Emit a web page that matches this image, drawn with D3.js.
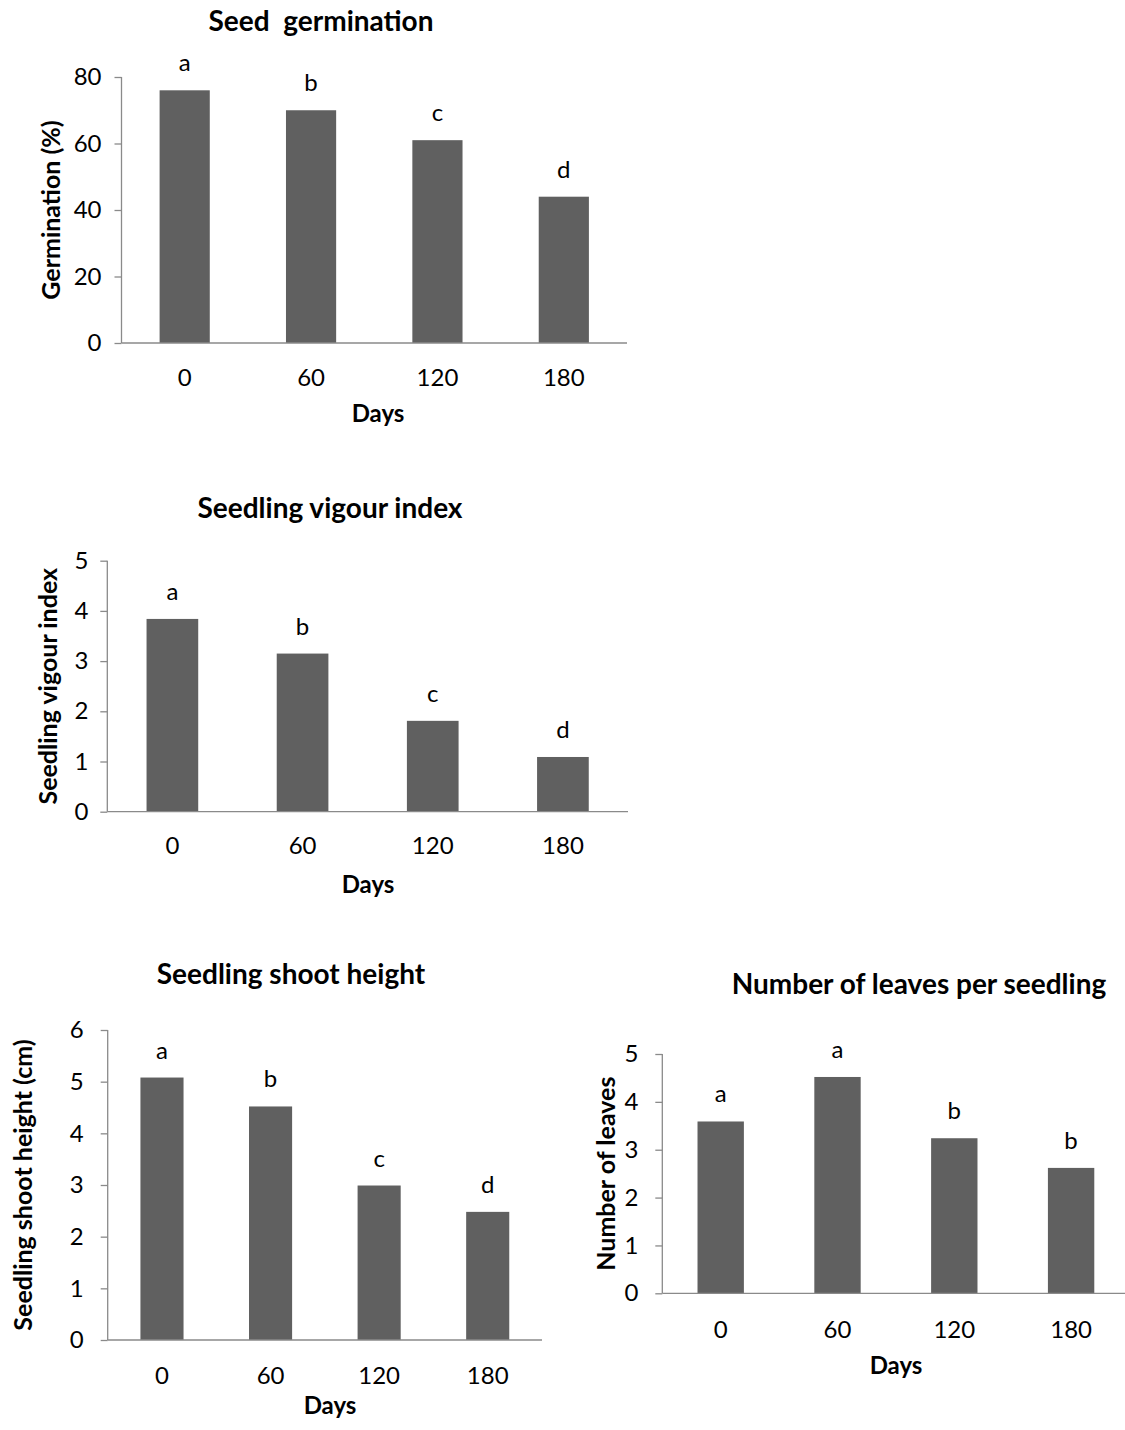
<!DOCTYPE html>
<html>
<head>
<meta charset="utf-8">
<script src="https://cdn.jsdelivr.net/npm/d3@7"></script>
<style>
  body { margin: 0; background: #fff; }
  svg { display: block; font-family: Lato, "Open Sans", sans-serif; }
  .title { white-space: pre; }
</style>
</head>
<body>
<svg id="chart" width="1125" height="1430"></svg>
<script>
// data
const days = ["0", "60", "120", "180"];
const germination = [76, 70, 61, 44];
const vigour = [3.84, 3.15, 1.81, 1.09];
const shootHeight = [5.08, 4.52, 2.99, 2.48];
const leaves = [3.59, 4.52, 3.24, 2.62];
const germLetters = ["a", "b", "c", "d"];
const vigourLetters = ["a", "b", "c", "d"];
const shootLetters = ["a", "b", "c", "d"];
const leavesLetters = ["a", "a", "b", "b"];

const barColor = "#606060", axisColor = "#8a8a8a";

// one entry per panel: data + where it sits on the page
const panels = [
  { title: "Seed  germination", ylabel: "Germination (%)", values: germination, letters: germLetters,
    x0: 121.5, x1: 627, yTop: 77, yBot: 343, ymax: 80, step: 20,
    titleX: 321, titleY: 31, ylabX: 50, daysX: 378, daysY: 422, tickY: 386, pad: 20 },
  { title: "Seedling vigour index", ylabel: "Seedling vigour index", values: vigour, letters: vigourLetters,
    x0: 107.3, x1: 628, yTop: 560.7, yBot: 811.7, ymax: 5, step: 1,
    titleX: 330, titleY: 518, ylabX: 47, daysX: 368, daysY: 893, tickY: 854, pad: 19 },
  { title: "Seedling shoot height", ylabel: "Seedling shoot height (cm)", values: shootHeight, letters: shootLetters,
    x0: 107.7, x1: 542, yTop: 1030, yBot: 1340, ymax: 6, step: 1,
    titleX: 291, titleY: 984, ylabX: 22, daysX: 330, daysY: 1414, tickY: 1384, pad: 24 },
  { title: "Number of leaves per seedling", ylabel: "Number of leaves", values: leaves, letters: leavesLetters,
    x0: 662.3, x1: 1129.5, yTop: 1054, yBot: 1293.3, ymax: 5, step: 1,
    titleX: 919, titleY: 994, ylabX: 605, daysX: 896, daysY: 1374, tickY: 1338, pad: 24 }
];

const svg = d3.select("#chart");

panels.forEach(p => {
  const g = svg.append("g");
  const x = d3.scaleBand().domain(days).range([p.x0, p.x1]).padding(0);
  const y = d3.scaleLinear().domain([0, p.ymax]).range([p.yBot, p.yTop]);
  const bw = x.bandwidth() * 0.397;

  // bars
  g.selectAll("rect").data(p.values).join("rect")
    .attr("x", (d, i) => x(days[i]) + x.bandwidth() / 2 - bw / 2)
    .attr("y", d => y(d))
    .attr("width", bw)
    .attr("height", d => y(0) - y(d))
    .attr("fill", barColor);

  // significance letters
  g.selectAll("text.letter").data(p.values).join("text")
    .attr("class", "letter")
    .attr("x", (d, i) => x(days[i]) + x.bandwidth() / 2)
    .attr("y", d => y(d) - 19)
    .attr("text-anchor", "middle")
    .attr("font-size", 24)
    .attr("fill", "#000")
    .text((d, i) => p.letters[i]);

  // y axis
  const yAxis = g.append("g").attr("transform", `translate(${p.x0},0)`)
    .call(d3.axisLeft(y).tickValues(d3.range(0, p.ymax + p.step / 2, p.step))
      .tickFormat(d3.format("d")).tickSize(7).tickPadding(p.pad - 7));
  yAxis.select(".domain").attr("d", `M0,${p.yTop}V${p.yBot}`);
  yAxis.selectAll("line, path").attr("stroke", axisColor).attr("stroke-width", 1.3);
  yAxis.selectAll("text").attr("font-size", 24).attr("font-family", "Lato").attr("fill", "#000");

  // x axis (category labels, no ticks)
  const xAxis = g.append("g").attr("transform", `translate(0,${p.yBot})`)
    .call(d3.axisBottom(x).tickSize(0).tickPadding(0));
  xAxis.select(".domain").attr("d", `M${p.x0},0H${p.x1}`).attr("stroke", axisColor).attr("stroke-width", 1.3);
  xAxis.selectAll("text").attr("font-size", 24).attr("font-family", "Lato").attr("fill", "#000")
    .attr("dy", null).attr("y", p.tickY - p.yBot);

  // titles
  g.append("text").attr("class", "title")
    .attr("x", p.titleX).attr("y", p.titleY)
    .attr("text-anchor", "middle").attr("font-size", 28).attr("font-weight", "bold")
    .text(p.title);

  g.append("text")
    .attr("x", p.daysX).attr("y", p.daysY)
    .attr("text-anchor", "middle").attr("font-size", 24).attr("font-weight", "bold")
    .text("Days");

  g.append("text")
    .attr("transform", `translate(${p.ylabX},${(p.yTop + p.yBot) / 2}) rotate(-90)`)
    .attr("text-anchor", "middle").attr("dominant-baseline", "central")
    .attr("font-size", 25).attr("font-weight", "bold")
    .text(p.ylabel);
});
</script>
</body>
</html>
